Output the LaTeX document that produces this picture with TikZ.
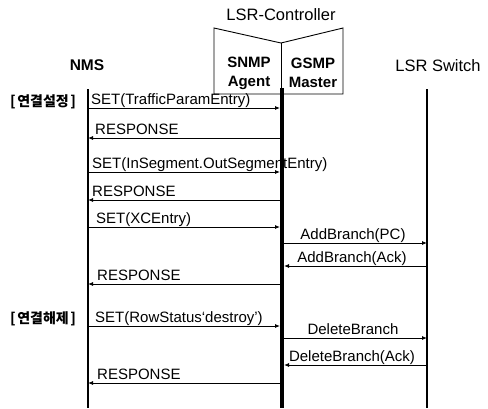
\documentclass[tikz,border=0pt]{standalone}
\usepackage{fontspec}
\setmainfont{Liberation Sans}
\newfontfamily\kofont{Noto Sans CJK KR}
\usetikzlibrary{arrows.meta}
\begin{document}
\begin{tikzpicture}[x=1pt,y=-1pt,
  lbl/.style={font=\fontsize{15}{15}\selectfont, inner sep=0pt},
  hdr/.style={font=\fontsize{16.5}{16.5}\selectfont, inner sep=0pt},
  sub/.style={inner sep=0pt, align=center, font=\bfseries\fontsize{15}{19}\selectfont},
  kor/.style={font=\kofont\bfseries\fontsize{14}{14}\selectfont, inner sep=0pt},
  msg/.style={-{Latex[length=5pt,width=4pt]}, line width=0.8pt},
  life/.style={line width=1.2pt},
  bar/.style={line width=4.5pt}]
\useasboundingbox (0,0) rectangle (488,408);

% headers
\node[hdr] (ctrl) at (281,15) {LSR-Controller};
\node[hdr, font=\bfseries\fontsize{15.5}{15.5}\selectfont] (nms) at (87,65) {NMS};
\node[hdr] (sw) at (438,66) {LSR Switch};
\draw[line width=0.9pt] (214,28) -- (281,43) -- (343,28) -- (343,94) -- (214,94) -- cycle;
\draw[line width=0.9pt] (281,43) -- (281,94);
\node[sub] (snmp) at (249,73) {SNMP\\Agent};
\node[sub] (gsmp) at (313,73) {GSMP\\Master};

% lifeline ends
\coordinate (nmsT) at (88,89);  \coordinate (nmsB) at (88,408);
\coordinate (swT) at (427,89);  \coordinate (swB) at (427,408);
\coordinate (ctT) at (282,88);  \coordinate (ctB) at (282,408);
\draw[life] (nmsT) -- (nmsB);
\draw[life] (swT) -- (swB);

% phase labels
\node[kor, anchor=base west] (p1) at (10,106) {[\kern1.5pt 연결설정\kern1.5pt]};
\node[kor, anchor=base west] (p2) at (10,323) {[\kern1.5pt 연결해제\kern1.5pt]};

% message end points
\foreach \n/\y in {1/108,2/138,3/172,4/200,5/227,8/284,9/326,12/383}{
  \coordinate (a\n) at (88,\y);
  \coordinate (c\n) at (280,\y);
}
\foreach \n/\y in {6/243,7/266,10/338,11/365}{
  \coordinate (c\n) at (284,\y);
  \coordinate (s\n) at (427,\y);
}

% messages NMS <-> controller
\draw[msg] (a1) -- (c1);
\node[lbl, anchor=base west] (l1) at (91,104) {SET(TrafficParamEntry)};
\draw[msg] (c2) -- (a2);
\node[lbl, anchor=base west] (l2) at (95,134) {RESPONSE};
\draw[msg] (a3) -- (c3);
\node[lbl, anchor=base west] (l3) at (92,168) {SET(InSegment.OutSegmentEntry)};
\draw[msg] (c4) -- (a4);
\node[lbl, anchor=base west] (l4) at (92,196) {RESPONSE};
\draw[msg] (a5) -- (c5);
\node[lbl, anchor=base west] (l5) at (96,223) {SET(XCEntry)};
\draw[msg] (c8) -- (a8);
\node[lbl, anchor=base west] (l8) at (97,280) {RESPONSE};
\draw[msg] (a9) -- (c9);
\node[lbl, anchor=base west] (l9) at (95,322) {SET(RowStatus‘destroy’)};
\draw[msg] (c12) -- (a12);
\node[lbl, anchor=base west] (l12) at (97,379) {RESPONSE};

% messages controller <-> switch
\draw[msg] (c6) -- (s6);
\node[lbl, anchor=base] (l6) at (353,239) {AddBranch(PC)};
\draw[msg] (s7) -- (c7);
\node[lbl, anchor=base] (l7) at (352,262) {AddBranch(Ack)};
\draw[msg] (c10) -- (s10);
\node[lbl, anchor=base] (l10) at (353,334) {DeleteBranch};
\draw[msg] (s11) -- (c11);
\node[lbl, anchor=base] (l11) at (352,361) {DeleteBranch(Ack)};

% controller bar on top
\draw[bar] (ctT) -- (ctB);
\end{tikzpicture}
\end{document}
